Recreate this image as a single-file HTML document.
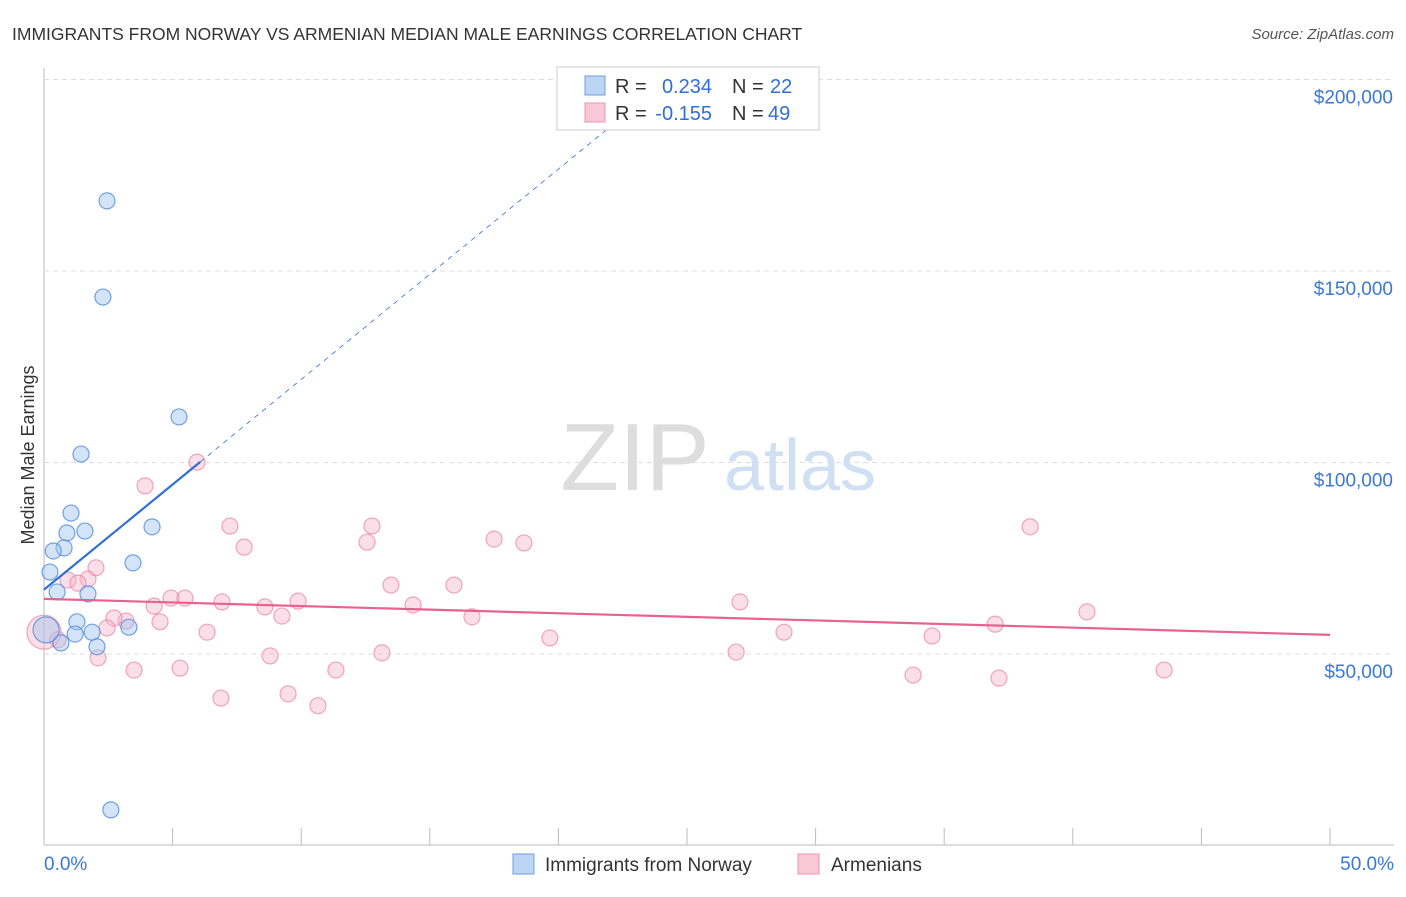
<!DOCTYPE html>
<html><head><meta charset="utf-8"><style>
body{margin:0;background:#fff;font-family:"Liberation Sans",sans-serif}
svg text{font-family:"Liberation Sans",sans-serif}
</style></head><body>
<svg id="chart" width="1406" height="892">
<text x="12" y="40" font-size="17.5" fill="#333">IMMIGRANTS FROM NORWAY VS ARMENIAN MEDIAN MALE EARNINGS CORRELATION CHART</text>
<text x="1394" y="39" font-size="15" fill="#555" font-style="italic" text-anchor="end">Source: ZipAtlas.com</text>
<text x="34" y="455" font-size="18" fill="#333" text-anchor="middle" transform="rotate(-90 34 455)">Median Male Earnings</text>
<g id="grid"></g>
<g id="watermark">
<text x="635" y="490" font-size="96" fill="#ddd" font-family="Liberation Serif" text-anchor="middle">ZIP</text>
<text x="800" y="490" font-size="72" fill="#cfe0f3" text-anchor="middle">atlas</text>
</g>
<g id="marks"></g>
<g>
<rect x="557" y="67" width="262" height="63" fill="#fff" stroke="#ccc"/>
<rect x="585" y="76" width="20" height="19" fill="#bcd5f5" stroke="#6a9fe0"/>
<rect x="585" y="103" width="20" height="19" fill="#f9c8d6" stroke="#ea93ae"/>
<text x="615" y="93" font-size="20" fill="#333">R =</text>
<text x="712" y="93" font-size="20" fill="#2f6fd6" text-anchor="end">0.234</text>
<text x="732" y="93" font-size="20" fill="#333">N =</text>
<text x="770" y="93" font-size="20" fill="#2f6fd6">22</text>
<text x="615" y="120" font-size="20" fill="#333">R =</text>
<text x="712" y="120" font-size="20" fill="#2f6fd6" text-anchor="end">-0.155</text>
<text x="732" y="120" font-size="20" fill="#333">N =</text>
<text x="768" y="120" font-size="20" fill="#2f6fd6">49</text>
</g>
<g>
<rect x="513" y="854" width="21" height="20" fill="#bcd5f5" stroke="#6a9fe0"/>
<text x="545" y="871" font-size="19" fill="#333">Immigrants from Norway</text>
<rect x="798" y="854" width="21" height="20" fill="#f9c8d6" stroke="#ea93ae"/>
<text x="831" y="871" font-size="19" fill="#333">Armenians</text>
</g>
<text x="44" y="870" font-size="19" fill="#3a78d8">0.0%</text>
<text x="1394" y="870" font-size="19" fill="#3a78d8" text-anchor="end">50.0%</text>
</svg>
<script>
const yTicks=[50000,100000,150000,200000];
const yTickLabels=["$50,000","$100,000","$150,000","$200,000"];
const xTicks=[0,5,10,15,20,25,30,35,40,45,50];
const norwayX=[2.45,2.29,5.25,1.44,1.05,1.59,0.89,4.20,0.78,0.36,3.46,0.23,0.51,1.71,1.28,1.21,1.87,3.30,0.66,2.06,0.08,2.60];
const norwayY=[168300,143200,111900,102200,86800,82100,81600,83200,77700,76900,73800,71400,66200,65700,58400,55200,55700,57000,52900,51900,56300,9300];
const armX=[5.95,3.93,7.23,12.75,7.78,12.56,17.50,18.66,38.34,0.93,1.71,1.32,2.02,13.49,15.94,4.28,4.94,5.48,6.92,8.59,9.88,14.35,27.06,40.55,4.51,3.19,2.72,2.45,6.34,9.25,16.64,28.77,34.53,36.98,19.67,0,2.10,3.50,5.29,8.79,13.14,11.35,26.91,6.88,9.49,10.65,33.79,37.13,43.55,0.54];
const armY=[100100,93900,83400,83400,77900,79200,80000,79000,83200,69300,69600,68500,72500,68000,68000,62500,64600,64600,63600,62300,63800,62800,63600,61000,58400,58600,59400,56800,55700,59900,59700,55700,54700,57800,54200,55700,49000,45800,46300,49500,50300,45800,50500,38500,39600,36500,44500,43700,45800,53700];
const norwayTrend=[66800,5490];
const armTrend=[64400,-188];
const NS="http://www.w3.org/2000/svg";
const X=v=>44+v*25.72, Y=v=>845.5-v*0.00383;
function mk(t,a,p){const e=document.createElementNS(NS,t);for(const k in a)e.setAttribute(k,a[k]);p.appendChild(e);return e;}
const grid=document.getElementById('grid'), marks=document.getElementById('marks');
let ax=mk('line',{x1:44,y1:68,x2:44,y2:845,stroke:'#bbb'},grid);

let bx=mk('line',{x1:44,y1:845,x2:1394,y2:845,stroke:'#bbb'},grid);

yTicks.forEach((t,i)=>{
 const g=mk('line',{x1:44,x2:1394,y1:Y(t),y2:Y(t),stroke:'#ddd','stroke-dasharray':'5,4'},grid);
 
 const l=mk('text',{x:1393,y:Y(t)+24,'font-size':19,fill:'#3a78d8','text-anchor':'end'},grid);l.textContent=yTickLabels[i];
 
});
xTicks.forEach(t=>{const k=mk('line',{x1:X(t),x2:X(t),y1:828,y2:845,stroke:'#bbb'},grid);
 });
armX.forEach((x,i)=>{const c=mk('circle',{cx:X(x),cy:Y(armY[i]),r:x===0?17:8,fill:'rgba(246,176,198,0.4)',stroke:'rgba(232,130,165,0.7)','stroke-width':1.2},marks);
 });
norwayX.forEach((x,i)=>{const c=mk('circle',{cx:X(x),cy:Y(norwayY[i]),r:i===20?13:8,fill:'rgba(160,196,240,0.45)',stroke:'rgba(80,140,220,0.8)','stroke-width':1.2},marks);
 });
const nx1=6.07, nx2=22.3;
let d=mk('line',{x1:X(nx1),y1:Y(norwayTrend[0]+norwayTrend[1]*nx1),x2:X(nx2),y2:Y(norwayTrend[0]+norwayTrend[1]*nx2),stroke:'#2f6fd6','stroke-dasharray':'5,5','stroke-width':0.8},marks);

let t1=mk('line',{x1:X(0),y1:Y(norwayTrend[0]),x2:X(nx1),y2:Y(norwayTrend[0]+norwayTrend[1]*nx1),stroke:'#2f6fd6','stroke-width':2.2},marks);

let t2=mk('line',{x1:X(0),y1:Y(armTrend[0]),x2:X(50),y2:Y(armTrend[0]+armTrend[1]*50),stroke:'#e8628f','stroke-width':2.2},marks);

</script>
</body></html>
